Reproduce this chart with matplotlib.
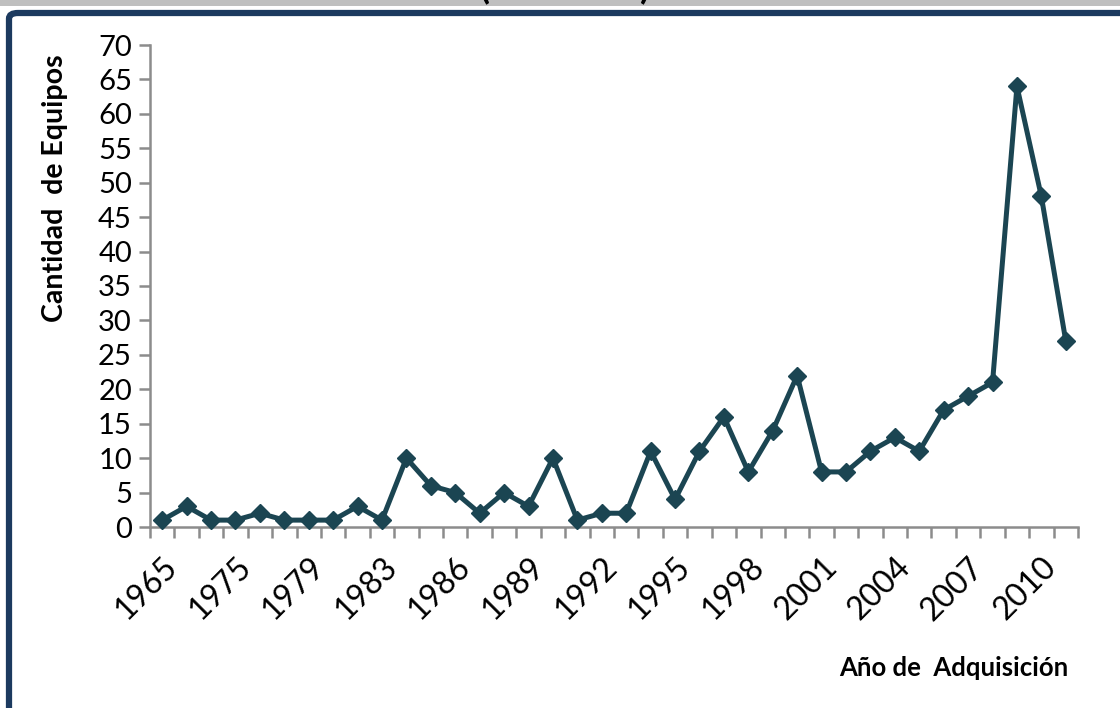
import matplotlib.pyplot as plt
from matplotlib.patches import FancyBboxPatch, Rectangle

# años de adquisicion (categorias) y cantidad de equipos
anios = [1965, 1970, 1972, 1975, 1976, 1978, 1979, 1980, 1981,
         1983, 1984, 1985, 1986, 1987, 1988, 1989, 1990, 1991, 1992,
         1993, 1994, 1995, 1996, 1997, 1998, 1999, 2000, 2001, 2002,
         2003, 2004, 2005, 2006, 2007, 2008, 2009, 2010, 2011]
equipos = [1, 3, 1, 1, 2, 1, 1, 1, 3, 1,
           10, 6, 5, 2, 5, 3, 10, 1, 2, 2,
           11, 4, 11, 16, 8, 14, 22, 8, 8, 11,
           13, 11, 17, 19, 21, 64, 48, 27]
paso_etiqueta = 3

plt.rcParams['font.family'] = ['Lato', 'DejaVu Sans']

fig = plt.figure(figsize=(11.2, 7.08), dpi=100)

# banda gris superior y marco azul
fig.patches.append(Rectangle((0, 1 - 6 / 708), 1, 6 / 708, transform=fig.transFigure,
                             facecolor='#bfbfbf', edgecolor='none', zorder=-2))
fig.patches.append(FancyBboxPatch((9 / 1120, -0.05), 1.2, 1 - 13 / 708 + 0.05,
                                  boxstyle='round,pad=0,rounding_size=0.008',
                                  transform=fig.transFigure, facecolor='white',
                                  edgecolor='#1c3a5f', linewidth=4.5, zorder=-1))
fig.text(485 / 1120, 1 + 12 / 708, '(', fontsize=26, fontweight='bold', va='center', ha='center')
fig.text(645 / 1120, 1 + 12 / 708, ')', fontsize=26, fontweight='bold', va='center', ha='center')

ax = fig.add_axes([150 / 1120, 181 / 708, 928 / 1120, 482 / 708])
ax.set_facecolor('none')

x = list(range(len(equipos)))
ax.plot(x, equipos, color='#1b4552', linewidth=3.6, marker='D', markersize=9.5,
        markeredgecolor='#1b4552', markerfacecolor='#1b4552', zorder=3, clip_on=False)

ax.set_xlim(-0.5, len(equipos) - 0.5)
ax.set_ylim(0, 70)
ax.set_yticks(range(0, 71, 5))

# marcas entre categorias, etiquetas cada 3 años
ax.set_xticks([i - 0.5 for i in range(len(equipos) + 1)])
ax.set_xticklabels([])
ax.set_xticks(x[::paso_etiqueta], minor=True)
ax.set_xticklabels([str(a) for a in anios[::paso_etiqueta]], minor=True,
                   rotation=45, ha='right', rotation_mode='anchor')
ax.tick_params(axis='x', which='minor', length=0, pad=18, labelsize=23)
ax.tick_params(axis='x', which='major', length=8, width=1.8, color='#8c8c8c', direction='out')
ax.tick_params(axis='y', length=8, width=1.8, color='#8c8c8c', labelsize=21, pad=5)

for s in ['top', 'right']:
    ax.spines[s].set_visible(False)
for s in ['left', 'bottom']:
    ax.spines[s].set_color('#8c8c8c')
    ax.spines[s].set_linewidth(1.8)

fig.text(55 / 1120, 1 - 188 / 708, 'Cantidad  de Equipos', rotation=90, fontsize=20.5,
         fontweight='bold', ha='center', va='center')
fig.text(1068 / 1120, 1 - 668 / 708, 'Año de  Adquisición', fontsize=18.5,
         fontweight='bold', ha='right', va='center')

fig.savefig('out.png', dpi=100)
